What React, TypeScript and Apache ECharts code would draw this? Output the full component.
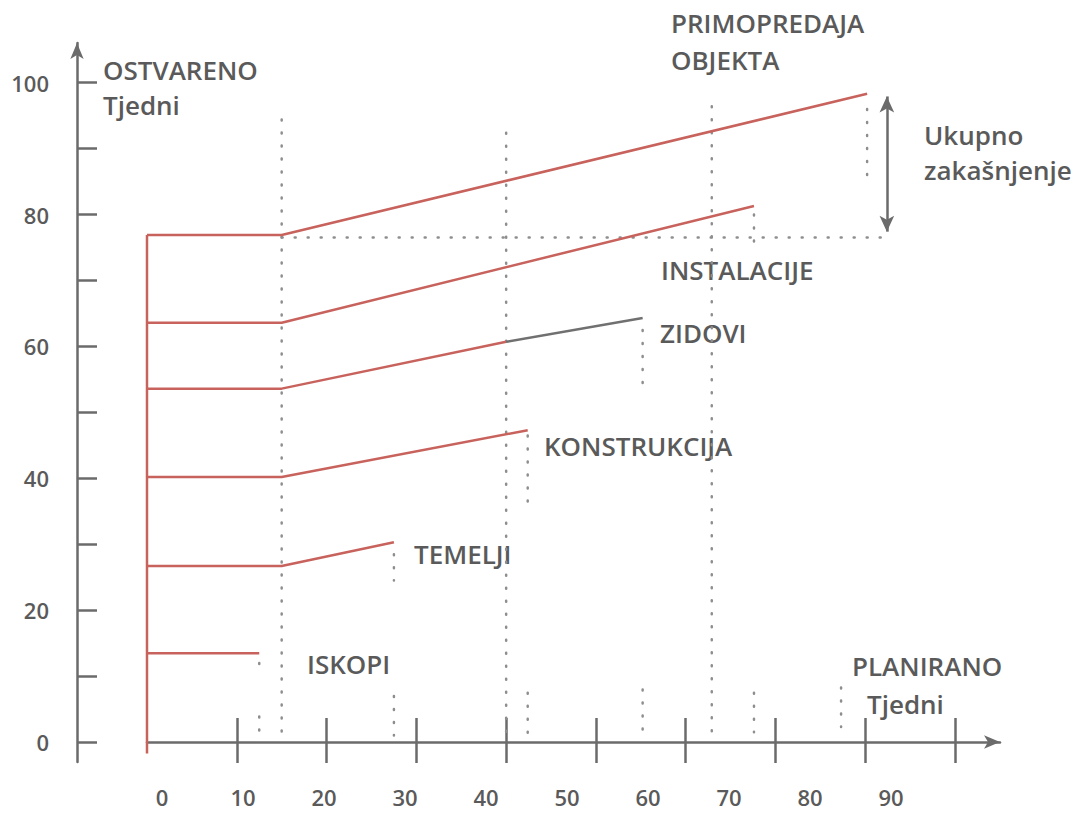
import React, { useEffect, useRef } from "react";
import * as echarts from "echarts";

// ---- data (weeks) ----
const xTickValues = [10, 20, 30, 40, 50, 60, 70, 80, 90];
const xLabelValues = [0, 10, 20, 30, 40, 50, 60, 70, 80, 90];
const yTickValues = [0, 10, 20, 30, 40, 50, 60, 70, 80, 90, 100];
const yLabelValues = [0, 20, 40, 60, 80, 100];

const startLine = [[0, -1.7], [0, 76.9]];
const iskopi = [[0, 13.5], [12.5, 13.5]];
const temelji = [[0, 26.7], [15, 26.7], [27.5, 30.3]];
const konstrukcija = [[0, 40.2], [15, 40.2], [42.4, 47.3]];
const zidovi = [[0, 53.6], [15, 53.6], [40, 60.7]];
const zidoviProjected = [[40, 60.7], [55.2, 64.3]];
const instalacije = [[0, 63.6], [15, 63.6], [67.6, 81.3]];
const primopredaja = [[0, 76.9], [15, 76.9], [80.2, 98.3]];

// dotted guide segments: [x1, y1, x2, y2]
const guideSegments = [
  [12.5, 12.0, 12.5, 11.2],
  [12.5, 3.9, 12.5, 1.5],
  [15, 94.4, 15, 1.0],
  [27.5, 28.5, 27.5, 24.5],
  [27.5, 7.0, 27.5, 1.0],
  [40, 92.4, 40, 1.0],
  [42.4, 46.5, 42.4, 36.5],
  [42.4, 7.5, 42.4, 1.0],
  [55.2, 62.5, 55.2, 54.0],
  [55.2, 8.0, 55.2, 1.5],
  [62.9, 96.4, 62.9, 1.0],
  [67.6, 80.0, 67.6, 74.5],
  [67.6, 7.5, 67.6, 1.5],
  [77.3, 8.3, 77.3, 2.3],
  [80.2, 96.0, 80.2, 86.0],
  [15, 76.5, 82.4, 76.5],
];
const delayArrow = [[82.4, 97.9], [82.4, 77.4]];

// ---- styles ----
const RED = "#c8625c";
const GREY_LINE = "#707070";
const AXIS = "#6b6b6b";
const TEXT = "#5a5a5a";
const DOT = "#8e8e8e";
const FONT = "'Open Sans', 'DejaVu Sans', sans-serif";

const GRID_LEFT = 147;
const GRID_RIGHT_PX = 1000;
const LABEL_ORIGIN_PX = 162;
const LABEL_STEP_PX = 8.1;
const labelAxisMin = (GRID_LEFT - LABEL_ORIGIN_PX) / LABEL_STEP_PX;
const labelAxisMax = (GRID_RIGHT_PX - LABEL_ORIGIN_PX) / LABEL_STEP_PX;

function redSeries(name: string, data: number[][], color = RED) {
  return {
    name,
    type: "line",
    xAxisIndex: 0,
    yAxisIndex: 0,
    data,
    symbol: "none",
    silent: true,
    z: 5,
    lineStyle: { color, width: 2.5 },
  };
}

function txt(text: string, x: number, y: number, size = 26) {
  return {
    type: "text",
    x,
    y,
    silent: true,
    style: {
      text,
      fill: TEXT,
      fontSize: size,
      fontWeight: 600,
      fontFamily: FONT,
      textAlign: "left",
      textVerticalAlign: "middle",
      align: "left",
      verticalAlign: "middle",
    },
  };
}

export default function App() {
  const ref = useRef<HTMLDivElement>(null);
  useEffect(() => {
    const chart = echarts.init(ref.current!, null, { renderer: "svg" });
    const axisLineStyle = { color: AXIS, width: 2.5 };
    const option: any = {
      animation: false,
      backgroundColor: "#ffffff",
      grid: { left: GRID_LEFT, right: 1085 - GRID_RIGHT_PX, top: 43, height: 719 },
      xAxis: [
        {
          type: "value",
          min: 0,
          max: 95,
          position: "bottom",
          offset: -20,
          axisLine: {
            show: true,
            onZero: false,
            lineStyle: axisLineStyle,
            symbol: ["none", "arrow"],
            symbolSize: [10, 16],
          },
          axisTick: { show: true, inside: true, length: 24, customValues: xTickValues, lineStyle: axisLineStyle },
          axisLabel: { show: false },
          splitLine: { show: false },
        },
        {
          type: "value",
          min: 0,
          max: 95,
          position: "bottom",
          offset: -20,
          axisLine: { show: false, onZero: false },
          axisTick: { show: true, inside: false, length: 21, customValues: xTickValues, lineStyle: axisLineStyle },
          axisLabel: { show: false },
          splitLine: { show: false },
        },
        {
          type: "value",
          min: labelAxisMin,
          max: labelAxisMax,
          position: "bottom",
          offset: -20,
          axisLine: { show: false, onZero: false },
          axisTick: { show: false },
          axisLabel: {
            show: true,
            customValues: xLabelValues,
            margin: 44,
            color: TEXT,
            fontSize: 22,
            fontWeight: 600,
            fontFamily: FONT,
          },
          splitLine: { show: false },
        },
      ],
      yAxis: [
        {
          type: "value",
          min: -3,
          max: 106,
          position: "left",
          offset: 70,
          axisLine: {
            show: true,
            onZero: false,
            lineStyle: axisLineStyle,
            symbol: ["none", "arrow"],
            symbolSize: [10, 16],
          },
          axisTick: { show: true, inside: true, length: 20, customValues: yTickValues, lineStyle: axisLineStyle },
          axisLabel: {
            show: true,
            customValues: yLabelValues,
            margin: 28,
            color: TEXT,
            fontSize: 22,
            fontWeight: 600,
            fontFamily: FONT,
          },
          splitLine: { show: false },
        },
      ],
      series: [
        ...guideSegments.map((s, i) => ({
          name: "guide" + i,
          type: "line",
          xAxisIndex: 0,
          yAxisIndex: 0,
          data: [[s[0], s[1]], [s[2], s[3]]],
          symbol: "none",
          silent: true,
          z: 2,
          lineStyle: { color: DOT, width: 2.5, type: [1, 12], cap: "round" },
        })),
        redSeries("start", startLine),
        redSeries("ISKOPI", iskopi),
        redSeries("TEMELJI", temelji),
        redSeries("KONSTRUKCIJA", konstrukcija),
        redSeries("ZIDOVI", zidovi),
        redSeries("ZIDOVI plan", zidoviProjected, GREY_LINE),
        redSeries("INSTALACIJE", instalacije),
        redSeries("PRIMOPREDAJA", primopredaja),
        {
          name: "Ukupno zakašnjenje",
          type: "line",
          xAxisIndex: 0,
          yAxisIndex: 0,
          data: [],
          silent: true,
          markLine: {
            silent: true,
            symbol: ["arrow", "arrow"],
            symbolSize: [11, 16],
            label: { show: false },
            lineStyle: { color: AXIS, width: 2.5, type: "solid" },
            data: [[{ coord: delayArrow[0] }, { coord: delayArrow[1] }]],
          },
        },
      ],
      graphic: [
        txt("OSTVARENO", 103, 70),
        txt("Tjedni", 103, 105),
        txt("PRIMOPREDAJA", 671, 23),
        txt("OBJEKTA", 671, 60),
        txt("Ukupno", 924, 135),
        txt("zakašnjenje", 924, 170),
        txt("INSTALACIJE", 661, 270),
        txt("ZIDOVI", 660, 333),
        txt("KONSTRUKCIJA", 544, 446),
        txt("TEMELJI", 414, 554),
        txt("ISKOPI", 307, 664),
        txt("PLANIRANO", 852, 666),
        txt("Tjedni", 867, 704),
      ],
    };
    chart.setOption(option);
    return () => chart.dispose();
  }, []);
  return (
    <div
      ref={ref}
      style={{ position: "absolute", left: 0, top: 0, width: 1085, height: 813, background: "#fff" }}
    />
  );
}
